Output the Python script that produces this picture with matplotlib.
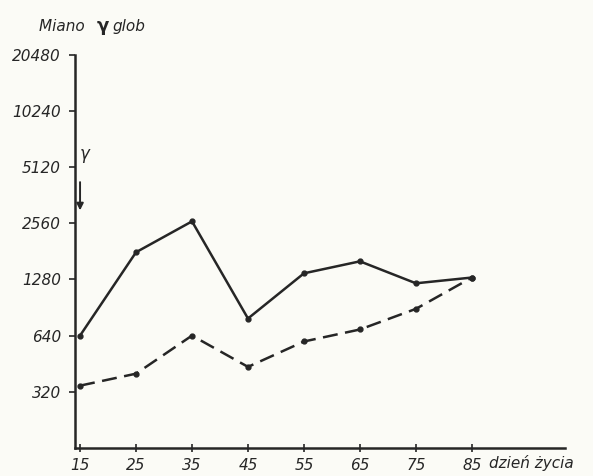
import matplotlib.pyplot as plt
import numpy as np

# days of life and titres
days = [15, 25, 35, 45, 55, 65, 75, 85]
solid_titre = [640, 1790, 2620, 790, 1380, 1600, 1220, 1310]
dashed_titre = [345, 400, 640, 435, 595, 690, 890, 1310]
y_ticks = [320, 640, 1280, 2560, 5120, 10240, 20480]
x_ticks = [15, 25, 35, 45, 55, 65, 75, 85]

ink = '#262626'
fig = plt.figure(figsize=(5.93, 4.76), dpi=100, facecolor='#fbfbf6')
ax = fig.add_axes([0.1265, 0.059, 0.826, 0.826])
ax.set_facecolor('#fbfbf6')

ax.plot(days, solid_titre, '-', color=ink, lw=1.8, marker='o', ms=3.5)
ax.plot(days, dashed_titre, '--', color=ink, lw=1.8, marker='o', ms=3.5,
        dashes=(6, 3))

ax.set_yscale('log', base=2)
ax.set_ylim(160, 20480)
ax.set_xlim(14.1, 101.6)
ax.set_yticks(y_ticks)
ax.set_yticklabels([str(v) for v in y_ticks])
ax.minorticks_off()
ax.set_xticks(x_ticks)
ax.set_xticklabels([str(v) for v in x_ticks])

for s in ['top', 'right']:
    ax.spines[s].set_visible(False)
for s in ['left', 'bottom']:
    ax.spines[s].set_linewidth(1.8)
    ax.spines[s].set_color(ink)

ax.tick_params(axis='y', direction='out', length=4, width=1.2, pad=6,
               colors=ink, labelsize=11)
ax.tick_params(axis='x', direction='inout', length=6, width=1.2, pad=4,
               colors=ink, labelsize=11)
for lab in ax.get_xticklabels() + ax.get_yticklabels():
    lab.set_fontstyle('italic')

# arrow with gamma near the top of the axis
ax.annotate('', xy=(15.0, 2900), xytext=(15.0, 4400),
            arrowprops=dict(arrowstyle='-|>', color=ink, lw=1.4,
                            mutation_scale=10))
ax.text(15.9, 6000, 'γ', fontsize=12, fontstyle='italic', color=ink,
        ha='center', va='center')

fig.text(0.065, 0.945, 'Miano ', fontsize=11, fontstyle='italic', color=ink,
         va='center')
fig.text(0.163, 0.945, 'γ', fontsize=13, fontweight='bold', color=ink,
         va='center')
fig.text(0.19, 0.945, 'glob', fontsize=11, fontstyle='italic', color=ink,
         va='center')
fig.text(0.824, 0.028, 'dzień życia', fontsize=11, fontstyle='italic',
         color=ink, va='center')

plt.savefig('out.png', dpi=100, facecolor=fig.get_facecolor())
